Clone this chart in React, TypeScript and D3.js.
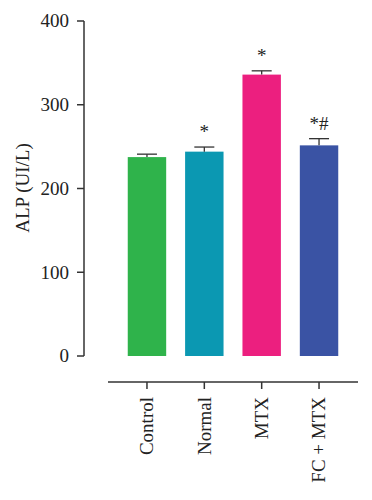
import React from "react";
import * as d3 from "d3";

const categories = ["Control", "Normal", "MTX", "FC + MTX"];
const means = [237.5, 244, 336, 251.5];
const errors = [3.5, 5.5, 4.5, 8];
const marks = ["", "*", "*", "*#"];
const colors = ["#2fb34b", "#0b98b2", "#ec1f7f", "#3a53a4"];
const yTicks = [0, 100, 200, 300, 400];

export default function App() {
  const W = 372, H = 500;
  const y = d3.scaleLinear().domain([0, 400]).range([356, 21]);
  const x = d3.scaleBand().domain(categories).range([118, 348]).paddingInner(0.33).paddingOuter(0.17);
  const axisColor = "#333";
  const font = "'Liberation Serif', 'DejaVu Serif', serif";
  const fs = 19;
  return (
    <svg width={W} height={H} style={{ position: "absolute", left: 0, top: 0, background: "#fff" }} fontFamily={font}>
      {/* y axis */}
      <line x1={84} x2={84} y1={y(400)} y2={y(0)} stroke={axisColor} strokeWidth={1.5} />
      {yTicks.map((t) => (
        <g key={t}>
          <line x1={77} x2={84} y1={y(t)} y2={y(t)} stroke={axisColor} strokeWidth={1.5} />
          <text x={69} y={y(t)} dy="0.33em" textAnchor="end" fontSize={fs} fill="#222">{t}</text>
        </g>
      ))}
      <text transform={`translate(23,${188}) rotate(-90)`} textAnchor="middle" dy="0.33em" fontSize={fs} fill="#222">ALP (UI/L)</text>
      {/* bars */}
      {categories.map((c, i) => {
        const bx = x(c)!;
        const bw = x.bandwidth();
        const cx = bx + bw / 2;
        const top = y(means[i]);
        const etop = y(means[i] + errors[i]);
        return (
          <g key={c}>
            <rect x={bx} y={top} width={bw} height={y(0) - top} fill={colors[i]} />
            <line x1={cx} x2={cx} y1={top} y2={etop} stroke={axisColor} strokeWidth={1.3} />
            <line x1={cx - 10} x2={cx + 10} y1={etop} y2={etop} stroke={axisColor} strokeWidth={1.3} />
            {marks[i] && (
              <text x={cx} y={etop - 9} textAnchor="middle" fontSize={fs} fill="#222">{marks[i]}</text>
            )}
          </g>
        );
      })}
      {/* x axis */}
      <line x1={108} x2={358} y1={382} y2={382} stroke={axisColor} strokeWidth={1.5} />
      {categories.map((c) => {
        const cx = x(c)! + x.bandwidth() / 2;
        return (
          <g key={c}>
            <line x1={cx} x2={cx} y1={382} y2={389} stroke={axisColor} strokeWidth={1.5} />
            <text transform={`translate(${cx},397) rotate(-90)`} textAnchor="end" dy="0.33em" fontSize={fs} fill="#222">{c}</text>
          </g>
        );
      })}
    </svg>
  );
}
